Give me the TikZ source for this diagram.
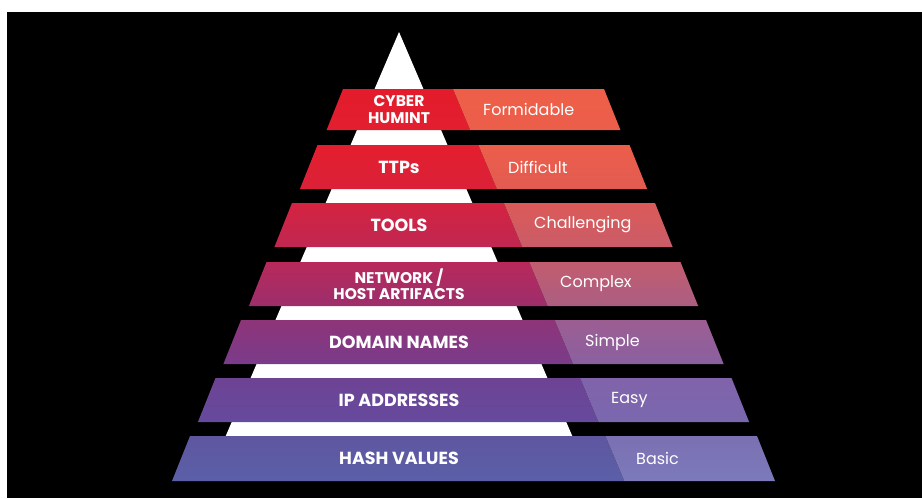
\documentclass[tikz,border=0pt]{standalone}
\usepackage{fontspec}
\setmainfont{Poppins}
\usetikzlibrary{positioning}

% band colours, left part (l) and right part (r), top (t) and bottom (b)
\definecolor{lt0}{HTML}{E31B2B}\definecolor{lb0}{HTML}{E21F30}
\definecolor{lt1}{HTML}{E41E2E}\definecolor{lb1}{HTML}{DA2139}
\definecolor{lt2}{HTML}{D42340}\definecolor{lb2}{HTML}{C02752}
\definecolor{lt3}{HTML}{B8295A}\definecolor{lb3}{HTML}{9C2E6D}
\definecolor{lt4}{HTML}{8E3479}\definecolor{lb4}{HTML}{7A3C8A}
\definecolor{lt5}{HTML}{6E4394}\definecolor{lb5}{HTML}{654A9D}
\definecolor{lt6}{HTML}{5F56A0}\definecolor{lb6}{HTML}{5A60A8}
\definecolor{rt0}{HTML}{EE5F49}\definecolor{rb0}{HTML}{EB5E4A}
\definecolor{rt1}{HTML}{EC5E4A}\definecolor{rb1}{HTML}{E25B52}
\definecolor{rt2}{HTML}{DC5A58}\definecolor{rb2}{HTML}{C95C68}
\definecolor{rt3}{HTML}{C25C6E}\definecolor{rb3}{HTML}{AB5E82}
\definecolor{rt4}{HTML}{9C5E92}\definecolor{rb4}{HTML}{8A60A0}
\definecolor{rt5}{HTML}{8063AA}\definecolor{rb5}{HTML}{7A68AF}
\definecolor{rt6}{HTML}{7A70B2}\definecolor{rb6}{HTML}{7C7ABA}

\begin{document}
\begin{tikzpicture}[x=1pt,y=-1pt,
    indicator/.style={text=white,align=center,inner sep=0pt,
      font=\bfseries\fontsize{17.5}{18}\selectfont},
    smallind/.style={indicator,font=\bfseries\fontsize{15.5}{16.5}\selectfont},
    pain/.style={text=white,anchor=west,inner sep=0pt,
      font=\fontsize{16}{17}\selectfont}]
  \useasboundingbox (0,0) rectangle (922,499);
  \fill[white] (0,0) rectangle (922,499);
  \fill[black] (7,12) rectangle (922,498);

  % white pyramid behind the bands
  \fill[white] (399,32) -- (224,440) -- (574,440) -- cycle;

  \foreach \i/\yt/\yb in {0/89/130,1/145/189,2/203/247,3/262/306,4/320/364,5/378/422,6/436/481}{
    \pgfmathsetmacro\bandh{\yb-\yt}
    \pgfmathsetmacro\bandlt{343-25.5*\i}
    \pgfmathsetmacro\bandlb{\bandlt-0.4*\bandh}
    \pgfmathsetmacro\bandst{453+25.4*\i}
    \pgfmathsetmacro\bandsb{\bandst+0.42*\bandh}
    \pgfmathsetmacro\bandrt{604+25.5*\i}
    \pgfmathsetmacro\bandrb{\bandrt+0.4*\bandh}
    \shade[top color=lt\i,bottom color=lb\i]
      (\bandlt,\yt) -- (\bandst,\yt) -- (\bandsb,\yb) -- (\bandlb,\yb) -- cycle;
    \shade[top color=rt\i,bottom color=rb\i]
      (\bandst,\yt) -- (\bandrt,\yt) -- (\bandrb,\yb) -- (\bandsb,\yb) -- cycle;
  }

  \node[smallind] (cyber) at (399,109.5) {CYBER\\HUMINT};
  \node[indicator] (ttps) at (399,167) {TTPs};
  \node[indicator] (tools) at (399,225) {TOOLS};
  \node[smallind] (network) at (399,284) {NETWORK /\\HOST ARTIFACTS};
  \node[indicator] (domain) at (399,342) {DOMAIN NAMES};
  \node[indicator] (ip) at (399,400) {IP ADDRESSES};
  \node[indicator] (hash) at (399,458.5) {HASH VALUES};

  \node[pain] (formidable) at (483,109.5) {Formidable};
  \node[pain] (difficult) at (508,167) {Difficult};
  \node[pain] (challenging) at (534,225) {Challenging};
  \node[pain] (complex) at (560,284) {Complex};
  \node[pain] (simple) at (585,342) {Simple};
  \node[pain] (easy) at (611,400) {Easy};
  \node[pain] (basic) at (636,458.5) {Basic};
\end{tikzpicture}
\end{document}
